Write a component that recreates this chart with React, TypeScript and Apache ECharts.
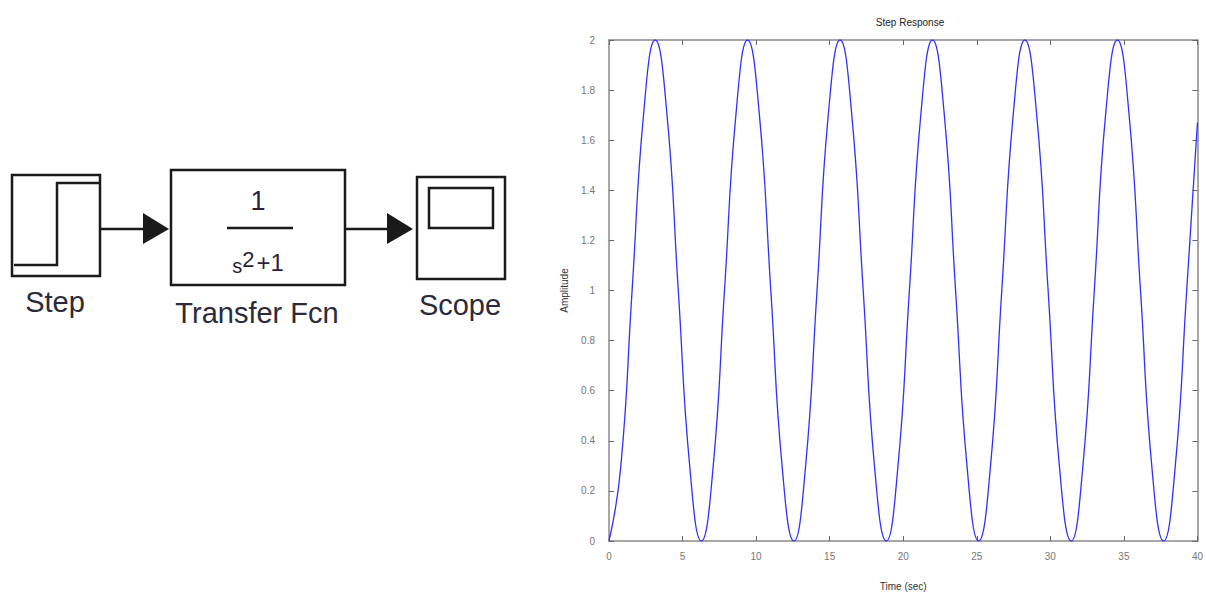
import React, { useEffect, useRef } from "react";
import * as echarts from "echarts";

const timeSec = [
  0, 0.79, 1.57, 2.36, 3.14, 3.93, 4.71, 5.5, 6.28, 7.07, 7.85, 8.64, 9.42, 10.21, 11.0, 11.78,
  12.57, 13.35, 14.14, 14.92, 15.71, 16.49, 17.28, 18.06, 18.85, 19.63, 20.42, 21.21, 21.99,
  22.78, 23.56, 24.35, 25.13, 25.92, 26.7, 27.49, 28.27, 29.06, 29.85, 30.63, 31.42, 32.2,
  32.99, 33.77, 34.56, 35.34, 36.13, 36.91, 37.7, 38.48, 39.27, 40.0,
];
const amplitude = [
  0, 0.29, 1, 1.71, 2, 1.71, 1, 0.29, 0, 0.29, 1, 1.71, 2, 1.71, 1, 0.29,
  0, 0.29, 1, 1.71, 2, 1.71, 1, 0.29, 0, 0.29, 1, 1.71, 2,
  1.71, 1, 0.29, 0, 0.29, 1, 1.71, 2, 1.71, 1, 0.29, 0, 0.29,
  1, 1.71, 2, 1.71, 1, 0.29, 0, 0.29, 1, 1.67,
];
const blockLabels = ["Step", "Transfer Fcn", "Scope"];
const chartTitle = "Step Response";
const xName = "Time (sec)";
const yName = "Amplitude";

const FONT = "'Liberation Sans', Arial, sans-serif";

export default function App() {
  const ref = useRef<HTMLDivElement>(null);
  useEffect(() => {
    if (!ref.current) return;
    const chart = echarts.init(ref.current, null, { renderer: "svg" });
    const blk = "#1a1a1a";
    const axisLineStyle = { color: "#8a8a8a", width: 1.5 };
    const tick = { show: true, inside: true, length: 5, lineStyle: { color: "#666" } };
    const option: any = {
      animation: false,
      backgroundColor: "#ffffff",
      title: {
        text: chartTitle,
        left: 905,
        top: 12,
        textAlign: "center",
        textStyle: { fontSize: 10, fontWeight: "normal", color: "#222", fontFamily: FONT },
      },
      grid: { left: 609, right: 3, top: 40, bottom: 50, containLabel: false },
      xAxis: [
        {
          type: "value",
          min: 0,
          max: 40,
          interval: 5,
          name: xName,
          nameLocation: "middle",
          nameGap: 40,
          nameTextStyle: { fontSize: 10, color: "#333", fontFamily: FONT },
          axisLine: { show: true, onZero: false, lineStyle: axisLineStyle },
          axisTick: tick,
          axisLabel: { fontSize: 10, color: "#777", margin: 10, fontFamily: FONT },
          splitLine: { show: false },
        },
        {
          type: "value",
          position: "top",
          min: 0,
          max: 40,
          interval: 5,
          axisLine: { show: true, onZero: false, lineStyle: axisLineStyle },
          axisTick: tick,
          axisLabel: { show: false },
          splitLine: { show: false },
        },
      ],
      yAxis: [
        {
          type: "value",
          min: 0,
          max: 2,
          interval: 0.2,
          name: yName,
          nameLocation: "middle",
          nameGap: 40,
          nameTextStyle: { fontSize: 10, color: "#333", fontFamily: FONT },
          axisLine: { show: true, onZero: false, lineStyle: axisLineStyle },
          axisTick: tick,
          axisLabel: { fontSize: 10, color: "#777", margin: 14, fontFamily: FONT },
          splitLine: { show: false },
        },
        {
          type: "value",
          position: "right",
          min: 0,
          max: 2,
          interval: 0.2,
          axisLine: { show: true, onZero: false, lineStyle: axisLineStyle },
          axisTick: tick,
          axisLabel: { show: false },
          splitLine: { show: false },
        },
      ],
      series: [
        {
          type: "line",
          xAxisIndex: 0,
          yAxisIndex: 0,
          data: timeSec.map((t, i) => [t, amplitude[i]]),
          smooth: 0.5,
          showSymbol: false,
          lineStyle: { color: "#3030ff", width: 1.3 },
        },
      ],
      graphic: [
        // Step block
        { type: "rect", shape: { x: 12, y: 175, width: 88, height: 101 }, style: { fill: "#fff", stroke: blk, lineWidth: 2.5 } },
        { type: "polyline", shape: { points: [[14, 265], [57, 265], [57, 183], [99, 183]] }, style: { fill: null, stroke: blk, lineWidth: 2.5 } },
        // arrow 1
        { type: "line", shape: { x1: 100, y1: 229, x2: 146, y2: 229 }, style: { stroke: blk, lineWidth: 2.5 } },
        { type: "polygon", shape: { points: [[143, 213], [169, 229], [143, 244]] }, style: { fill: blk } },
        // Transfer Fcn block
        { type: "rect", shape: { x: 171, y: 170, width: 174, height: 115 }, style: { fill: "#fff", stroke: blk, lineWidth: 2.5 } },
        { type: "line", shape: { x1: 227, y1: 228, x2: 293, y2: 228 }, style: { stroke: blk, lineWidth: 2.5 } },
        {
          type: "text",
          x: 258,
          y: 201,
          style: { text: "1", fontSize: 27, fill: "#2a1f3a", fontFamily: FONT, align: "center", verticalAlign: "middle" },
        },
        {
          type: "text",
          x: 258,
          y: 262,
          style: {
            text: "{s|s}{p|2}{o|+1}",
            fontFamily: FONT,
            align: "center",
            verticalAlign: "middle",
            rich: {
              s: { fontSize: 20, fill: "#2a1f3a", fontFamily: FONT, verticalAlign: "bottom", padding: [8, 0, 0, 0] },
              p: { fontSize: 22, fill: "#2a1f3a", fontFamily: FONT, verticalAlign: "top", padding: [0, 2, 6, 0] },
              o: { fontSize: 24, fill: "#2a1f3a", fontFamily: FONT },
            },
          },
        },
        // arrow 2
        { type: "line", shape: { x1: 345, y1: 229, x2: 390, y2: 229 }, style: { stroke: blk, lineWidth: 2.5 } },
        { type: "polygon", shape: { points: [[387, 213], [413, 229], [387, 244]] }, style: { fill: blk } },
        // Scope block
        { type: "rect", shape: { x: 417, y: 177, width: 88, height: 102 }, style: { fill: "#fff", stroke: blk, lineWidth: 2.5 } },
        { type: "rect", shape: { x: 429, y: 188, width: 64, height: 40 }, style: { fill: "#fff", stroke: blk, lineWidth: 2.5 } },
        // labels
        {
          type: "text",
          x: 55,
          y: 302,
          style: { text: blockLabels[0], fontSize: 29, fill: "#2b2b3a", fontFamily: FONT, align: "center", verticalAlign: "middle" },
        },
        {
          type: "text",
          x: 257,
          y: 313,
          style: { text: blockLabels[1], fontSize: 29, fill: "#2b2b3a", fontFamily: FONT, align: "center", verticalAlign: "middle" },
        },
        {
          type: "text",
          x: 460,
          y: 305,
          style: { text: blockLabels[2], fontSize: 29, fill: "#2b2b3a", fontFamily: FONT, align: "center", verticalAlign: "middle" },
        },
      ],
    };
    chart.setOption(option);
    return () => chart.dispose();
  }, []);
  return (
    <div
      ref={ref}
      style={{ position: "absolute", left: 0, top: 0, width: 1206, height: 596 }}
    />
  );
}
